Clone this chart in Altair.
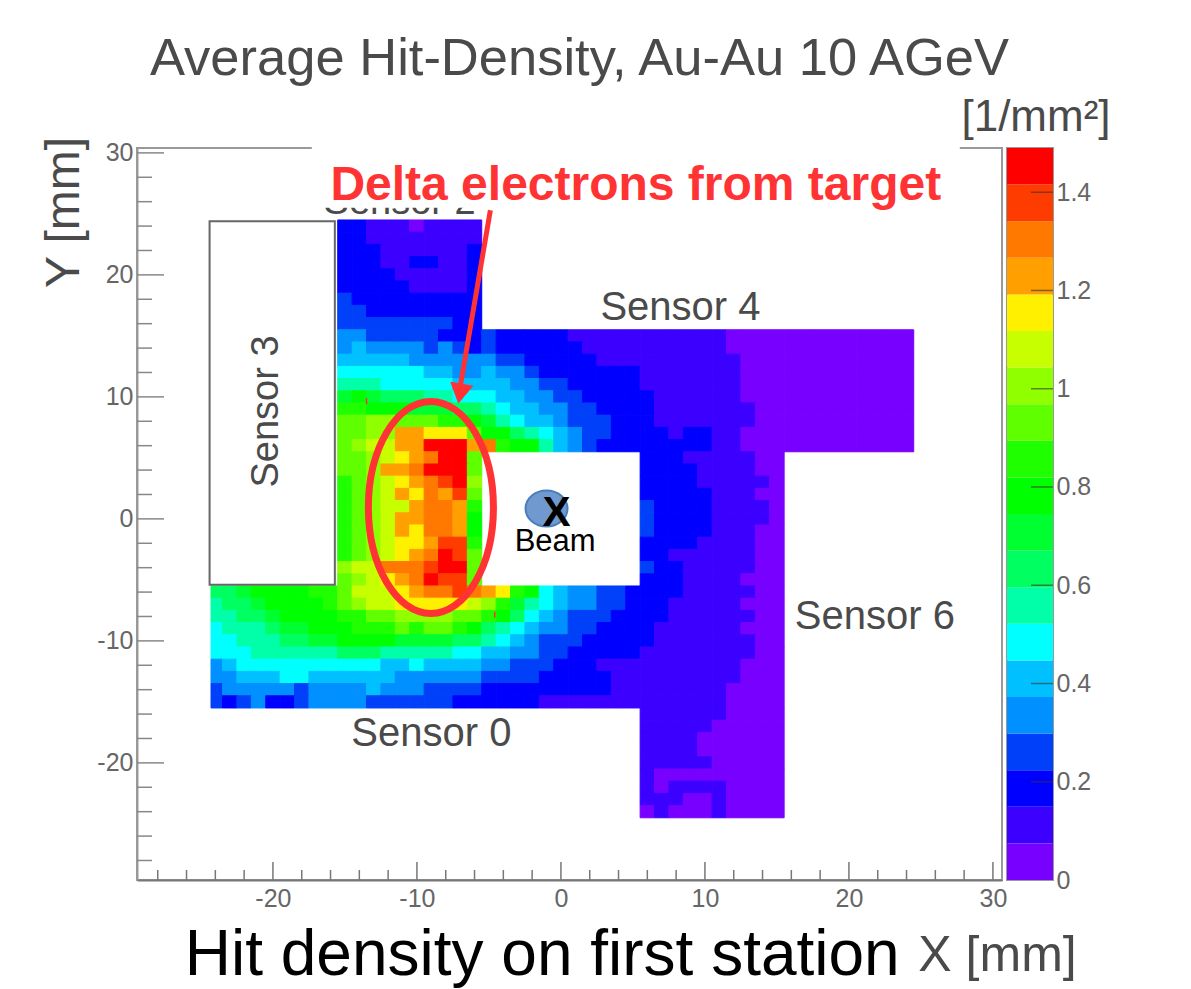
import altair as alt
import pandas as pd

TITLE = "Average Hit-Density, Au-Au 10 AGeV"
STEP = 1.49 / 20
COLORS = ["#7800ff", "#3c00ff", "#0000ff", "#0040f8", "#0090ff", "#00c0ff", "#00ffff",
          "#00ffa8", "#00ff60", "#00ff30", "#00ff00", "#20ff00", "#60ff00", "#90ff00",
          "#c8ff00", "#fff000", "#ffa000", "#ff7800", "#ff3c00", "#ff0000"]
LEVELS = "0123456789abcdefghij"

# level of each 1 mm cell, (first x, levels left to right), per row y
HIT_ROWS = {
    24: [(-15, "2211101111")],
    23: [(-15, "2211111111")],
    22: [(-15, "2221111112")],
    21: [(-15, "2221122112")],
    20: [(-15, "2222111112")],
    19: [(-15, "2222211112")],
    18: [(-15, "3222222222")],
    17: [(-15, "3322222222")],
    16: [(-15, "3333333322")],
    15: [(-15, "4433333222" "3222221111111111" "10000000000000")],
    14: [(-15, "4544443432" "32222221111111111" "0000000000000")],
    13: [(-15, "5555544444" "433222221111111111" "000000000000")],
    12: [(-15, "6666665544" "544322222221111111" "000000000000")],
    11: [(-15, "7776666655" "554433222221111111" "000000000000")],
    10: [(-15, "9a98887766" "655443322222111111" "000000000000")],
    9: [(-15, "bbaaa99988" "765544332222111111" "100000000000")],
    8: [(-15, "ccddcccbba" "976554333222111111" "100000000000")],
    7: [(-15, "ccddggfffc" "aa87654332222122" "11" "000000000000")],
    6: [(-15, "cdeeggjjjg" "hbaa75432222222211" "000000000000")],
    5: [(-15, "ccdefghjjc"), (6, "2221111100")],
    4: [(-15, "ccdgghjjjc"), (6, "2222111100")],
    3: [(-15, "bcdefghijd"), (6, "2222111110")],
    2: [(-15, "bcdegfhgic"), (6, "2222211100")],
    1: [(-15, "bcdeeghhgb"), (6, "3222211110")],
    0: [(-15, "bcdegghhga"), (6, "3222211110")],
    -1: [(-15, "bcdegfhhga"), (6, "3222211100")],
    -2: [(-15, "bcdeffgiib"), (6, "2222111100")],
    -3: [(-15, "bcdefghjic"), (6, "2211111100")],
    -4: [(-15, "deehhhijjc"), (6, "3221111100")],
    -5: [(-15, "cdefghjiic"), (6, "2221111000")],
    -6: [(-24, "889aaaabbc" "eeefghhih" "gfba6544332" "2221111100")],
    -7: [(-24, "7889aaaabc" "deefffffe" "db976544332" "2211111000")],
    -8: [(-24, "77889aaaab" "bccddddcc" "ba865433322" "2211111100")],
    -9: [(-24, "6777899aaa" "bbbcbccba" "87654433222" "2111111000")],
    -10: [(-24, "667778899a" "aaa999988" "76543332222" "2111111100")],
    -11: [(-24, "6667777778" "887777766" "55443322222" "1111111100")],
    -12: [(-24, "4566666666" "665565555" "44333222111" "1111111000")],
    -13: [(-24, "4455566555" "555444444" "33332222211" "1111111000")],
    -14: [(-24, "3444443444" "454443333" "22222222211" "1111110000")],
    -15: [(-24, "3234223444" "433333322" "22221111111" "1111110000")],
    -16: [(6, "1111110000")],
    -17: [(6, "1111100000")],
    -18: [(6, "1111000000")],
    -19: [(6, "1111000000")],
    -20: [(6, "1111100000")],
    -21: [(6, "1000000000")],
    -22: [(6, "1011110000")],
    -23: [(6, "1110010000")],
    -24: [(6, "0100010000")],
}

X_MAJOR = [-20, -10, 0, 10, 20, 30]
X_MINOR = [-28, -26, -24, -22, -18, -16, -14, -12, -8, -6, -4, -2, 2, 4, 6, 8, 12, 14, 16, 18, 22, 24, 26, 28]
Y_MAJOR = [-20, -10, 0, 10, 20, 30]
Y_MINOR = [-28, -26, -24, -22, -18, -16, -14, -12, -8, -6, -4, -2, 2, 4, 6, 8, 12, 14, 16, 18, 22, 24, 26, 28]
BAR_TICKS = [0, 0.2, 0.4, 0.6, 0.8, 1, 1.2, 1.4]

PLOT_W, PLOT_H = 865, 732
FONT = "Liberation Sans"
GREY = "#4a4a4a"
RED = "#ff3333"

cells = []
for y, segments in HIT_ROWS.items():
    for start, levels in segments:
        for i, ch in enumerate(levels):
            x = start + i
            cells.append({"x0": max(x - 0.5, -24.3), "x1": x + 0.5, "y0": y - 0.5, "y1": y + 0.5,
                          "v": (LEVELS.index(ch) + 0.5) * STEP})
heat_df = pd.DataFrame(cells)

XS = alt.Scale(domain=[-29.44, 30.63], nice=False, zero=False)
YS = alt.Scale(domain=[-29.6, 30.4], nice=False, zero=False)
CS = alt.Scale(type="threshold", domain=[(i + 1) * STEP for i in range(19)], range=COLORS)

AX = alt.Axis(
    title="X [mm]", titleX=860, titleY=50, titleFontSize=50, titleFont=FONT, titleFontWeight="normal",
    titleBaseline="top", titleColor=GREY, values=X_MAJOR, labelExpr="'' + datum.value", tickSize=0,
    labelPadding=6, labelFont=FONT, labelFontSize=25, labelColor="#666", domainColor="#777", domainWidth=2,
    grid=False)
AY = alt.Axis(
    title="Y [mm]", titleX=-59, titleY=64, titleFontSize=48, titleFont=FONT, titleFontWeight="normal",
    titleBaseline="alphabetic", titleColor=GREY, titleAngle=270, values=Y_MAJOR,
    labelExpr="'' + datum.value", tickSize=0, labelPadding=4, labelFont=FONT, labelFontSize=25,
    labelColor="#666", domainColor="#999", domainWidth=2, grid=False)


def X(field):
    return alt.X(field, scale=XS, axis=AX)


def Y(field):
    return alt.Y(field, scale=YS, axis=AY)


def note(text, x, y, size, color=GREY, angle=0, bold=False, baseline="middle"):
    return alt.Chart(pd.DataFrame({"t": [text], "x": [x], "y": [y]})).mark_text(
        font=FONT, fontSize=size, color=color, angle=angle, baseline=baseline,
        fontWeight="bold" if bold else "normal", align="center"
    ).encode(x=X("x:Q"), y=Y("y:Q"), text="t:N")


def box(x0, x1, y0, y1, **kw):
    return alt.Chart(pd.DataFrame({"x0": [x0], "x1": [x1], "y0": [y0], "y1": [y1]})).mark_rect(**kw).encode(
        x=X("x0:Q"), x2="x1:Q", y=Y("y0:Q"), y2="y1:Q")


def x_ticks(values, length):
    return alt.Chart(pd.DataFrame({"v": values})).mark_rule(color="#777", strokeWidth=1.5).encode(
        x=X("v:Q"), y=alt.value(PLOT_H), y2=alt.value(PLOT_H - length))


def y_ticks(values, length):
    return alt.Chart(pd.DataFrame({"v": values})).mark_rule(color="#888", strokeWidth=1.5).encode(
        y=Y("v:Q"), x=alt.value(0), x2=alt.value(length))


def shape_mark(path, x, y, size, **kw):
    return alt.Chart(pd.DataFrame({"x": [x], "y": [y]})).mark_point(shape=path, size=size, opacity=1, **kw).encode(
        x=X("x:Q"), y=Y("y:Q"))


heat = alt.Chart(heat_df).mark_rect(strokeWidth=1).encode(
    x=X("x0:Q"), x2="x1:Q", y=Y("y0:Q"), y2="y1:Q",
    fill=alt.Fill("v:Q", scale=CS, legend=None),
    stroke=alt.Stroke("v:Q", scale=CS, legend=None),
)

specks = alt.Chart(pd.DataFrame({"x": [-13.5, -4.6], "y0": [9.9, -7.6], "y1": [9.4, -8.1]})).mark_rule(
    color=RED, strokeWidth=1.5).encode(x=X("x:Q"), y=Y("y0:Q"), y2="y1:Q")

arrow_line = alt.Chart(pd.DataFrame({"x": [-4.9], "y": [25.3], "x2": [-7.0], "y2": [10.8]})).mark_rule(
    color=RED, strokeWidth=5).encode(x=X("x:Q"), y=Y("y:Q"), x2="x2:Q", y2="y2:Q")

main = alt.layer(
    heat,
    box(-24.4, -15.7, -5.4, 24.4, fill="white", stroke="#666", strokeWidth=2),
    x_ticks(X_MAJOR, 18), x_ticks(X_MINOR, 10), y_ticks(Y_MAJOR, 27), y_ticks(Y_MINOR, 15),
    note("Sensor 2", -11.2, 24.95, 38, baseline="alphabetic"),
    box(-17.3, 27.7, 25.5, 31.5, fill="white"),
    note("Sensor 4", 8.3, 17.25, 40),
    note("Sensor 6", 21.8, -8.05, 40),
    note("Sensor 0", -9.0, -17.65, 40),
    note("Sensor 3", -20.4, 8.8, 38, angle=270),
    specks,
    shape_mark("M-0.59,0 A0.59,1 0 1,0 0.59,0 A0.59,1 0 1,0 -0.59,0 Z", -9.03, 0.94, 44944,
               filled=False, stroke=RED, strokeWidth=7),
    arrow_line,
    shape_mark("triangle-down", -7.0, 10.3, 400, filled=True, fill=RED, stroke=RED, angle=10),
    note("Delta electrons from target", 5.2, 27.3, 48, color=RED, bold=True),
    shape_mark("M-1,0 A1,0.86 0 1,0 1,0 A1,0.86 0 1,0 -1,0 Z", -1.0, 0.85, 1764,
               filled=True, fill="#7099cf", stroke="#4a7ebb", strokeWidth=2),
    note("X", -0.3, 0.5, 42, color="black", bold=True),
    note("Beam", -0.4, -1.9, 31, color="black"),
    note("Hit density on first station", -1.3, -35.8, 64, color="black"),
).properties(
    width=PLOT_W, height=PLOT_H,
    title=alt.TitleParams(TITLE, font=FONT, fontSize=52.5, fontWeight="normal", color=GREY, dx=10, offset=48),
)

bar_df = pd.DataFrame({"low": [i * STEP for i in range(20)], "high": [(i + 1) * STEP for i in range(20)],
                       "mid": [(i + 0.5) * STEP for i in range(20)]})
BS = alt.Scale(domain=[0, 1.49], nice=False, zero=False)
BAXIS = alt.Axis(title=None, orient="right", values=BAR_TICKS, labelExpr="'' + datum.value", tickSize=0,
                 labelPadding=3, labelFont=FONT, labelFontSize=25, labelColor="#666", domain=False, grid=False)

bar = alt.layer(
    alt.Chart(bar_df).mark_rect().encode(
        x=alt.value(0), x2=alt.value(46),
        y=alt.Y("low:Q", scale=BS, axis=BAXIS),
        y2="high:Q",
        fill=alt.Fill("mid:Q", scale=CS, legend=None),
    ),
    alt.Chart(pd.DataFrame({"v": BAR_TICKS[1:]})).mark_rule(color="#333", opacity=0.6, strokeWidth=1.5).encode(
        y=alt.Y("v:Q", scale=BS, axis=BAXIS), x=alt.value(24), x2=alt.value(46)),
    alt.Chart(pd.DataFrame({"t": ["[1/mm\u00b2]"]})).mark_text(
        font=FONT, fontSize=44, color=GREY, align="center", baseline="alphabetic").encode(
        x=alt.value(29), y=alt.value(-17), text="t:N"),
).properties(width=46, height=PLOT_H)

chart = alt.hconcat(main, bar, spacing=5, bounds="flush").properties(
    padding={"left": 30, "top": 24, "right": 5, "bottom": 5}
).configure_view(stroke="#999", strokeWidth=2)

chart.save("out.html", embed_options={"renderer": "svg", "actions": False})
